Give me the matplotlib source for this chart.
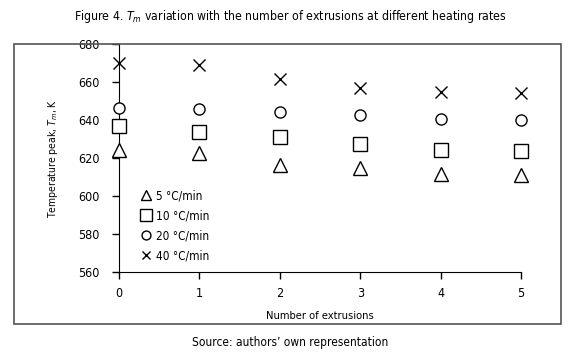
import matplotlib.pyplot as plt
from matplotlib.patches import Rectangle

plt.rcParams['font.family'] = ['DejaVu Sans']
plt.rcParams['font.stretch'] = 'condensed'

extrusions = [0, 1, 2, 3, 4, 5]
rate_5 = [624.4, 622.6, 616.5, 614.7, 611.6, 611.2]
rate_10 = [637.0, 633.7, 631.4, 627.4, 624.4, 623.8]
rate_20 = [646.6, 646.0, 644.5, 642.6, 640.5, 640.2]
rate_40 = [670.0, 669.0, 661.7, 656.8, 655.0, 654.2]
labels = ['5 °C/min', '10 °C/min', '20 °C/min', '40 °C/min']

fig = plt.figure(figsize=(5.8, 3.59), dpi=100)
ax = fig.add_axes([0.2052, 0.2423, 0.6931, 0.6343])

ax.plot(extrusions, rate_5, '^', ms=9.5, mfc='white', mec='black', mew=1, clip_on=False, zorder=3, label=labels[0])
ax.plot(extrusions, rate_10, 's', ms=10, mfc='white', mec='black', mew=1, clip_on=False, zorder=3, label=labels[1])
ax.plot(extrusions, rate_20, 'o', ms=8, mfc='white', mec='black', mew=1, clip_on=False, zorder=3, label=labels[2])
ax.plot(extrusions, rate_40, 'x', ms=8, mec='black', mew=1, clip_on=False, zorder=3, label=labels[3])

ax.set_xlim(0, 5)
ax.set_ylim(560, 680)
ax.set_yticks(range(560, 681, 20))
ax.set_xticks(extrusions)
ax.spines['top'].set_visible(False)
ax.spines['right'].set_visible(False)
ax.tick_params(direction='out', length=5, width=1, labelsize=9)
ax.tick_params(axis='x', pad=6)
ax.tick_params(axis='y', pad=9)
ax.set_xlabel('Number of extrusions', fontsize=8, labelpad=8)
ax.set_ylabel('Temperature peak, $T_m$, K', fontsize=7.5, labelpad=13)

leg = ax.legend(loc='upper left', bbox_to_anchor=(0.04, 0.385), frameon=False, fontsize=8.5,
                handletextpad=0.4, handlelength=1.0, labelspacing=0.6, borderaxespad=0,
                markerscale=0.8)

fig.patches.append(Rectangle((0.0241, 0.0975), 0.943, 0.78, transform=fig.transFigure,
                             fill=False, edgecolor='#555555', lw=1.2))
fig.text(0.5, 0.955, 'Figure 4. $T_m$ variation with the number of extrusions at different heating rates',
         ha='center', va='center', fontsize=8.8)
fig.text(0.5, 0.045, 'Source: authors\u2019 own representation', ha='center', va='center', fontsize=8.6)

fig.savefig('out.png', dpi=100)
